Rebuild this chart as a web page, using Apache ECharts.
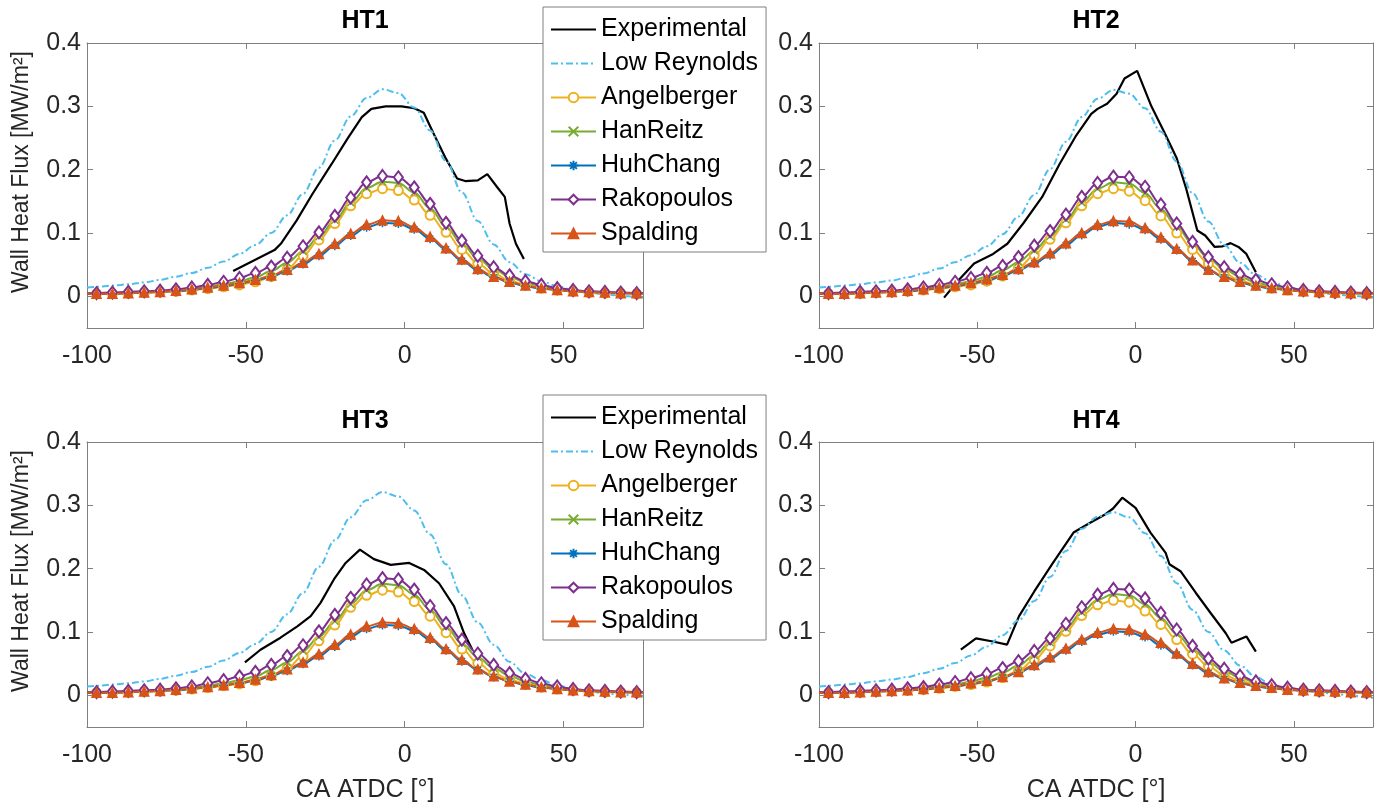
<!DOCTYPE html>
<html><head><meta charset="utf-8">
<script src="https://cdn.jsdelivr.net/npm/echarts@6/dist/echarts.min.js"></script>
<style>html,body{margin:0;padding:0;background:#fff}#c{width:1381px;height:808px}</style>
</head><body><div id="c"></div>
<script>
// ---------------- DATA ----------------
const seriesNames = ['Experimental','Low Reynolds','Angelberger','HanReitz','HuhChang','Rakopoulos','Spalding'];
const panelTitles = ['HT1','HT2','HT3','HT4'];
const xTicks = [-100,-50,0,50];
const yTicks = [0,0.1,0.2,0.3,0.4];
const xLabel = 'CA ATDC [°]';
const yLabel = 'Wall Heat Flux [MW/m²]';

// crank-angle grid of the simulated curves (markers every 5°, line ends at axis limits)
const modelCA = [-100,-97,-92,-87,-82,-77,-72,-67,-62,-57,-52,-47,-42,-37,-32,-27,-22,-17,-12,-7,-2,3,8,13,18,23,28,33,38,43,48,53,58,63,68,73,75];

// HT1
const exp1CA = [-54,-41,-39,-34,-29,-23,-18,-13.5,-10.5,-6,-1,3,6,9,13,16.5,19,23,26,29,31.5,33,35,37.5];
const exp1HF = [0.040,0.073,0.083,0.120,0.162,0.209,0.249,0.283,0.296,0.300,0.300,0.297,0.290,0.258,0.217,0.186,0.182,0.183,0.193,0.173,0.157,0.115,0.083,0.059];
const lr1  = [0.014,0.015,0.017,0.019,0.022,0.026,0.031,0.037,0.045,0.055,0.067,0.081,0.100,0.128,0.162,0.203,0.246,0.284,0.313,0.327,0.321,0.298,0.262,0.214,0.164,0.119,0.082,0.054,0.035,0.024,0.016,0.010,0.006,0.003,0.001,-0.001,-0.002];
const ang1 = [0.004,0.004,0.004,0.005,0.006,0.007,0.008,0.010,0.012,0.015,0.018,0.023,0.031,0.043,0.064,0.089,0.115,0.143,0.162,0.170,0.167,0.152,0.128,0.101,0.074,0.052,0.036,0.025,0.018,0.013,0.010,0.008,0.006,0.005,0.005,0.004,0.004];
const han1 = [0.004,0.004,0.005,0.006,0.007,0.008,0.010,0.012,0.015,0.019,0.024,0.030,0.040,0.053,0.071,0.094,0.120,0.148,0.171,0.181,0.179,0.164,0.139,0.110,0.083,0.060,0.043,0.031,0.022,0.016,0.012,0.009,0.007,0.006,0.005,0.005,0.005];
const huh1 = [0.004,0.004,0.004,0.005,0.006,0.007,0.008,0.010,0.013,0.016,0.020,0.025,0.031,0.040,0.051,0.064,0.080,0.096,0.109,0.116,0.115,0.106,0.091,0.074,0.056,0.041,0.030,0.022,0.016,0.012,0.010,0.008,0.007,0.006,0.005,0.005,0.005];
const rak1 = [0.005,0.005,0.006,0.007,0.008,0.009,0.011,0.014,0.018,0.023,0.029,0.037,0.047,0.061,0.079,0.101,0.127,0.156,0.180,0.190,0.188,0.172,0.146,0.116,0.088,0.064,0.046,0.033,0.024,0.018,0.013,0.010,0.008,0.007,0.006,0.005,0.005];
const spa1 = [0.004,0.004,0.004,0.005,0.006,0.007,0.009,0.011,0.014,0.017,0.021,0.026,0.033,0.042,0.053,0.067,0.083,0.099,0.113,0.120,0.119,0.109,0.094,0.076,0.058,0.043,0.031,0.023,0.017,0.013,0.010,0.008,0.007,0.006,0.005,0.005,0.005];

// HT2
const exp2CA = [-60.5,-56,-51,-45,-40.5,-35.5,-29.5,-24,-19,-14,-12,-9,-6,-3.5,0.5,5,9,13,16,19.5,22,25,27.5,30,32.5,35,38];
const exp2HF = [-0.002,0.025,0.052,0.067,0.083,0.115,0.157,0.209,0.252,0.288,0.296,0.304,0.320,0.344,0.356,0.300,0.260,0.218,0.170,0.104,0.096,0.078,0.079,0.084,0.078,0.067,0.038];
const lr2  = [0.014,0.015,0.017,0.019,0.022,0.025,0.030,0.036,0.044,0.054,0.065,0.079,0.098,0.126,0.160,0.201,0.244,0.283,0.312,0.326,0.320,0.297,0.260,0.213,0.163,0.118,0.081,0.053,0.034,0.023,0.015,0.010,0.006,0.003,0.001,-0.001,-0.002];
const ang2 = [0.004,0.004,0.004,0.005,0.006,0.007,0.008,0.010,0.012,0.015,0.018,0.024,0.032,0.045,0.065,0.090,0.116,0.143,0.162,0.170,0.166,0.151,0.127,0.100,0.074,0.052,0.036,0.025,0.018,0.013,0.010,0.008,0.006,0.005,0.005,0.004,0.004];
const han2 = [0.004,0.004,0.005,0.006,0.007,0.008,0.010,0.012,0.015,0.019,0.024,0.031,0.041,0.054,0.072,0.095,0.121,0.148,0.170,0.180,0.178,0.163,0.138,0.110,0.083,0.060,0.043,0.031,0.022,0.016,0.012,0.009,0.007,0.006,0.005,0.005,0.005];
const huh2 = [0.004,0.004,0.004,0.005,0.006,0.007,0.008,0.010,0.013,0.016,0.020,0.025,0.032,0.041,0.052,0.065,0.081,0.097,0.110,0.116,0.114,0.105,0.090,0.073,0.056,0.041,0.030,0.022,0.016,0.012,0.010,0.008,0.007,0.006,0.005,0.005,0.005];
const rak2 = [0.005,0.005,0.006,0.007,0.008,0.009,0.011,0.014,0.018,0.023,0.029,0.037,0.048,0.062,0.080,0.103,0.129,0.157,0.179,0.189,0.188,0.173,0.145,0.115,0.086,0.062,0.046,0.035,0.026,0.019,0.014,0.010,0.008,0.007,0.006,0.005,0.005];
const spa2 = [0.004,0.004,0.004,0.005,0.006,0.007,0.009,0.011,0.014,0.017,0.021,0.027,0.034,0.043,0.054,0.068,0.084,0.100,0.113,0.119,0.118,0.108,0.093,0.075,0.057,0.042,0.031,0.023,0.017,0.013,0.010,0.008,0.007,0.006,0.005,0.005,0.005];

// HT3
const exp3CA = [-50.3,-45.4,-39.1,-33.8,-29.6,-26.5,-22.3,-18.6,-14.1,-9.7,-4.4,1.4,6.1,10.8,15.5,18.7,21.3];
const exp3HF = [0.052,0.072,0.091,0.109,0.125,0.146,0.183,0.209,0.230,0.215,0.206,0.209,0.198,0.177,0.141,0.098,0.072];
const lr3  = [0.014,0.015,0.017,0.019,0.022,0.026,0.031,0.037,0.045,0.055,0.067,0.081,0.100,0.128,0.162,0.203,0.245,0.281,0.308,0.321,0.314,0.292,0.254,0.207,0.158,0.115,0.080,0.053,0.034,0.024,0.016,0.010,0.006,0.003,0.001,-0.001,-0.002];
const ang3 = [0.004,0.004,0.004,0.005,0.006,0.007,0.008,0.010,0.012,0.015,0.018,0.023,0.031,0.043,0.062,0.086,0.111,0.139,0.158,0.166,0.163,0.148,0.125,0.099,0.073,0.051,0.035,0.025,0.018,0.013,0.010,0.008,0.006,0.005,0.005,0.004,0.004];
const han3 = [0.004,0.004,0.005,0.006,0.007,0.008,0.010,0.012,0.015,0.019,0.024,0.030,0.040,0.052,0.070,0.092,0.117,0.144,0.166,0.176,0.174,0.159,0.135,0.108,0.082,0.060,0.043,0.031,0.022,0.016,0.012,0.009,0.007,0.006,0.005,0.005,0.005];
const huh3 = [0.004,0.004,0.004,0.005,0.006,0.007,0.008,0.010,0.013,0.016,0.019,0.024,0.030,0.039,0.050,0.062,0.077,0.093,0.105,0.111,0.110,0.102,0.088,0.071,0.054,0.040,0.029,0.022,0.016,0.012,0.010,0.008,0.007,0.006,0.005,0.005,0.005];
const rak3 = [0.005,0.005,0.006,0.007,0.008,0.009,0.011,0.014,0.019,0.024,0.030,0.037,0.048,0.062,0.079,0.101,0.127,0.154,0.175,0.185,0.183,0.167,0.141,0.114,0.088,0.066,0.048,0.035,0.026,0.019,0.014,0.010,0.008,0.007,0.006,0.005,0.005];
const spa3 = [0.004,0.004,0.004,0.005,0.006,0.007,0.009,0.011,0.013,0.016,0.020,0.025,0.032,0.041,0.052,0.065,0.080,0.096,0.109,0.115,0.114,0.105,0.091,0.073,0.056,0.041,0.030,0.022,0.017,0.013,0.010,0.008,0.007,0.006,0.005,0.005,0.005];

// HT4
const exp4CA = [-55.2,-50.4,-45.1,-40.6,-36.8,-32,-26.1,-19.6,-14.2,-9.5,-7.1,-4.2,0,4.7,9.5,10.7,14.2,19,23.7,28.5,30.3,35,38];
const exp4HF = [0.072,0.090,0.085,0.080,0.125,0.164,0.209,0.257,0.273,0.286,0.295,0.312,0.296,0.257,0.225,0.207,0.196,0.162,0.130,0.098,0.083,0.093,0.069];
const lr4  = [0.014,0.015,0.017,0.019,0.022,0.025,0.029,0.035,0.042,0.051,0.063,0.077,0.095,0.118,0.149,0.187,0.228,0.263,0.282,0.289,0.281,0.256,0.220,0.177,0.135,0.100,0.071,0.047,0.029,0.017,0.011,0.008,0.005,0.002,0.000,-0.003,-0.004];
const ang4 = [0.004,0.004,0.004,0.005,0.006,0.007,0.008,0.009,0.011,0.014,0.017,0.021,0.028,0.039,0.056,0.078,0.101,0.126,0.143,0.150,0.147,0.133,0.112,0.088,0.065,0.046,0.032,0.023,0.017,0.012,0.009,0.007,0.006,0.005,0.005,0.004,0.004];
const han4 = [0.004,0.004,0.005,0.006,0.007,0.008,0.009,0.011,0.014,0.017,0.022,0.028,0.036,0.047,0.063,0.083,0.106,0.131,0.151,0.160,0.158,0.144,0.122,0.097,0.073,0.053,0.038,0.028,0.020,0.015,0.011,0.009,0.007,0.006,0.005,0.005,0.005];
const huh4 = [0.004,0.004,0.004,0.005,0.006,0.007,0.008,0.009,0.012,0.014,0.018,0.022,0.028,0.036,0.046,0.058,0.071,0.085,0.096,0.101,0.100,0.092,0.079,0.064,0.048,0.035,0.026,0.019,0.014,0.011,0.009,0.007,0.006,0.006,0.005,0.005,0.005];
const rak4 = [0.005,0.005,0.006,0.007,0.008,0.009,0.011,0.013,0.017,0.021,0.027,0.034,0.043,0.054,0.070,0.090,0.113,0.139,0.159,0.168,0.167,0.153,0.130,0.104,0.078,0.058,0.042,0.031,0.022,0.016,0.012,0.009,0.008,0.007,0.006,0.005,0.005];
const spa4 = [0.004,0.004,0.004,0.005,0.006,0.007,0.008,0.010,0.012,0.015,0.019,0.023,0.029,0.037,0.048,0.060,0.074,0.088,0.099,0.105,0.104,0.096,0.083,0.066,0.050,0.037,0.027,0.020,0.015,0.012,0.009,0.008,0.007,0.006,0.005,0.005,0.005];

// ---------------- CHART ----------------
const panels = [
  {expCA:exp1CA, expHF:exp1HF, models:[lr1,ang1,han1,huh1,rak1,spa1]},
  {expCA:exp2CA, expHF:exp2HF, models:[lr2,ang2,han2,huh2,rak2,spa2]},
  {expCA:exp3CA, expHF:exp3HF, models:[lr3,ang3,han3,huh3,rak3,spa3]},
  {expCA:exp4CA, expHF:exp4HF, models:[lr4,ang4,han4,huh4,rak4,spa4]}
];
const FONT = '"Liberation Sans", Arial, Helvetica, sans-serif';
const AX = '#7f7f7f';
const grids = [
  {left:87, top:43, width:556, height:285},
  {left:819, top:43, width:554, height:285},
  {left:87, top:442, width:556, height:285},
  {left:819, top:442, width:554, height:285}
];
const styleOf = {
  'Low Reynolds': {color:'#4DBEEE', symbol:'none', size:0, dash:[7,3,2,3]},
  'Angelberger':  {color:'#EDB120', symbol:'emptyCircle', size:9},
  'HanReitz':     {color:'#77AC30', symbol:'path://M0,0L10,10M10,0L0,10', size:7},
  'HuhChang':     {color:'#0072BD', symbol:'path://M5,0L5,10M0,5L10,5M1.5,1.5L8.5,8.5M8.5,1.5L1.5,8.5', size:9},
  'Rakopoulos':   {color:'#7E2F8E', symbol:'emptyDiamond', size:[9,12]},
  'Spalding':     {color:'#D95319', symbol:'triangle', size:9}
};

const series = [];
panels.forEach((p, g) => {
  series.push({
    type:'line', name:'Experimental', xAxisIndex:g, yAxisIndex:g,
    data: p.expCA.map((x,i)=>[x, p.expHF[i]]),
    symbol:'circle', showSymbol:false, color:'#000',
    itemStyle:{color:'#000', opacity:0},
    lineStyle:{color:'#000', width:2.2},
    silent:true, animation:false
  });
  seriesNames.slice(1).forEach((nm, k) => {
    const st = styleOf[nm];
    const ys = p.models[k];
    const noSym = st.symbol === 'none';
    series.push({
      type:'line', name:nm, xAxisIndex:g, yAxisIndex:g,
      data: modelCA.map((x,i)=>{
        const it = {value:[x, ys[i]]};
        if (i===0 || i===modelCA.length-1) it.symbol = 'none';
        return it;
      }),
      symbol: noSym ? 'circle' : st.symbol, symbolSize: noSym ? 1 : st.size,
      showSymbol: !noSym, showAllSymbol:true,
      smooth:0.35, smoothMonotone:'x',
      color: st.color,
      lineStyle:{color:st.color, width:2, type: st.dash || 'solid'},
      itemStyle: noSym ? {color:st.color, opacity:0}
                       : {color:st.color, borderColor:st.color, borderWidth:1.5},
      silent:true, animation:false
    });
  });
});

const xAxes = [], yAxes = [];
[0,1].forEach(mirror => {
  grids.forEach((gr, g) => {
    xAxes.push({
      type:'value', gridIndex:g, min:-100, max:75, position: mirror ? 'top' : 'bottom',
      axisLine:{show:true, onZero:false, lineStyle:{color:AX, width:1}},
      axisTick:{show:true, inside:true, length:6, customValues:xTicks, lineStyle:{color:AX}},
      axisLabel:{show:!mirror, customValues:xTicks, fontSize:25, fontFamily:FONT, color:'#262626', margin:16},
      splitLine:{show:false}
    });
    yAxes.push({
      type:'value', gridIndex:g, min:-0.05, max:0.4, position: mirror ? 'right' : 'left',
      axisLine:{show:true, onZero:false, lineStyle:{color:AX, width:1}},
      axisTick:{show:true, inside:true, length:6, customValues:yTicks, lineStyle:{color:AX}},
      axisLabel:{show:!mirror, customValues:yTicks, fontSize:25, fontFamily:FONT, color:'#262626', margin:6},
      splitLine:{show:false}
    });
  });
});

const graphic = [];
const titlePos = [[365,21],[1096,21],[365,421],[1096,421]];
panelTitles.forEach((t,i)=>{
  graphic.push({type:'text', x:titlePos[i][0], y:titlePos[i][1], z:10,
    style:{text:t, fontSize:25, fontWeight:'bold', fontFamily:FONT, fill:'#000',
      align:'center', verticalAlign:'middle', textAlign:'center', textVerticalAlign:'middle'}});
});
[[22,172],[22,571]].forEach(pos=>{
  graphic.push({type:'text', x:pos[0], y:pos[1], rotation:Math.PI/2, z:10,
    style:{text:yLabel, fontSize:23, fontFamily:FONT, fill:'#262626',
      align:'center', verticalAlign:'middle', textAlign:'center', textVerticalAlign:'middle'}});
});
[[365,790],[1096,790]].forEach(pos=>{
  graphic.push({type:'text', x:pos[0], y:pos[1], z:10,
    style:{text:xLabel, fontSize:25, fontFamily:FONT, fill:'#262626',
      align:'center', verticalAlign:'middle', textAlign:'center', textVerticalAlign:'middle'}});
});

const legends = [7, 395].map(top => ({
  data: seriesNames, orient:'vertical', left:543, top:top,
  itemWidth:45, itemHeight:12, itemGap:9, padding:[10,8,6,7],
  backgroundColor:'#fff', borderColor:AX, borderWidth:1, borderRadius:0,
  textStyle:{fontSize:25, fontFamily:FONT, color:'#000'},
  selectedMode:false, z:20
}));

const chart = echarts.init(document.getElementById('c'), null, {renderer:'canvas'});
chart.setOption({
  backgroundColor:'#fff',
  animation:false,
  grid: grids,
  xAxis: xAxes,
  yAxis: yAxes,
  legend: legends,
  graphic: graphic,
  series: series
});
</script></body></html>
